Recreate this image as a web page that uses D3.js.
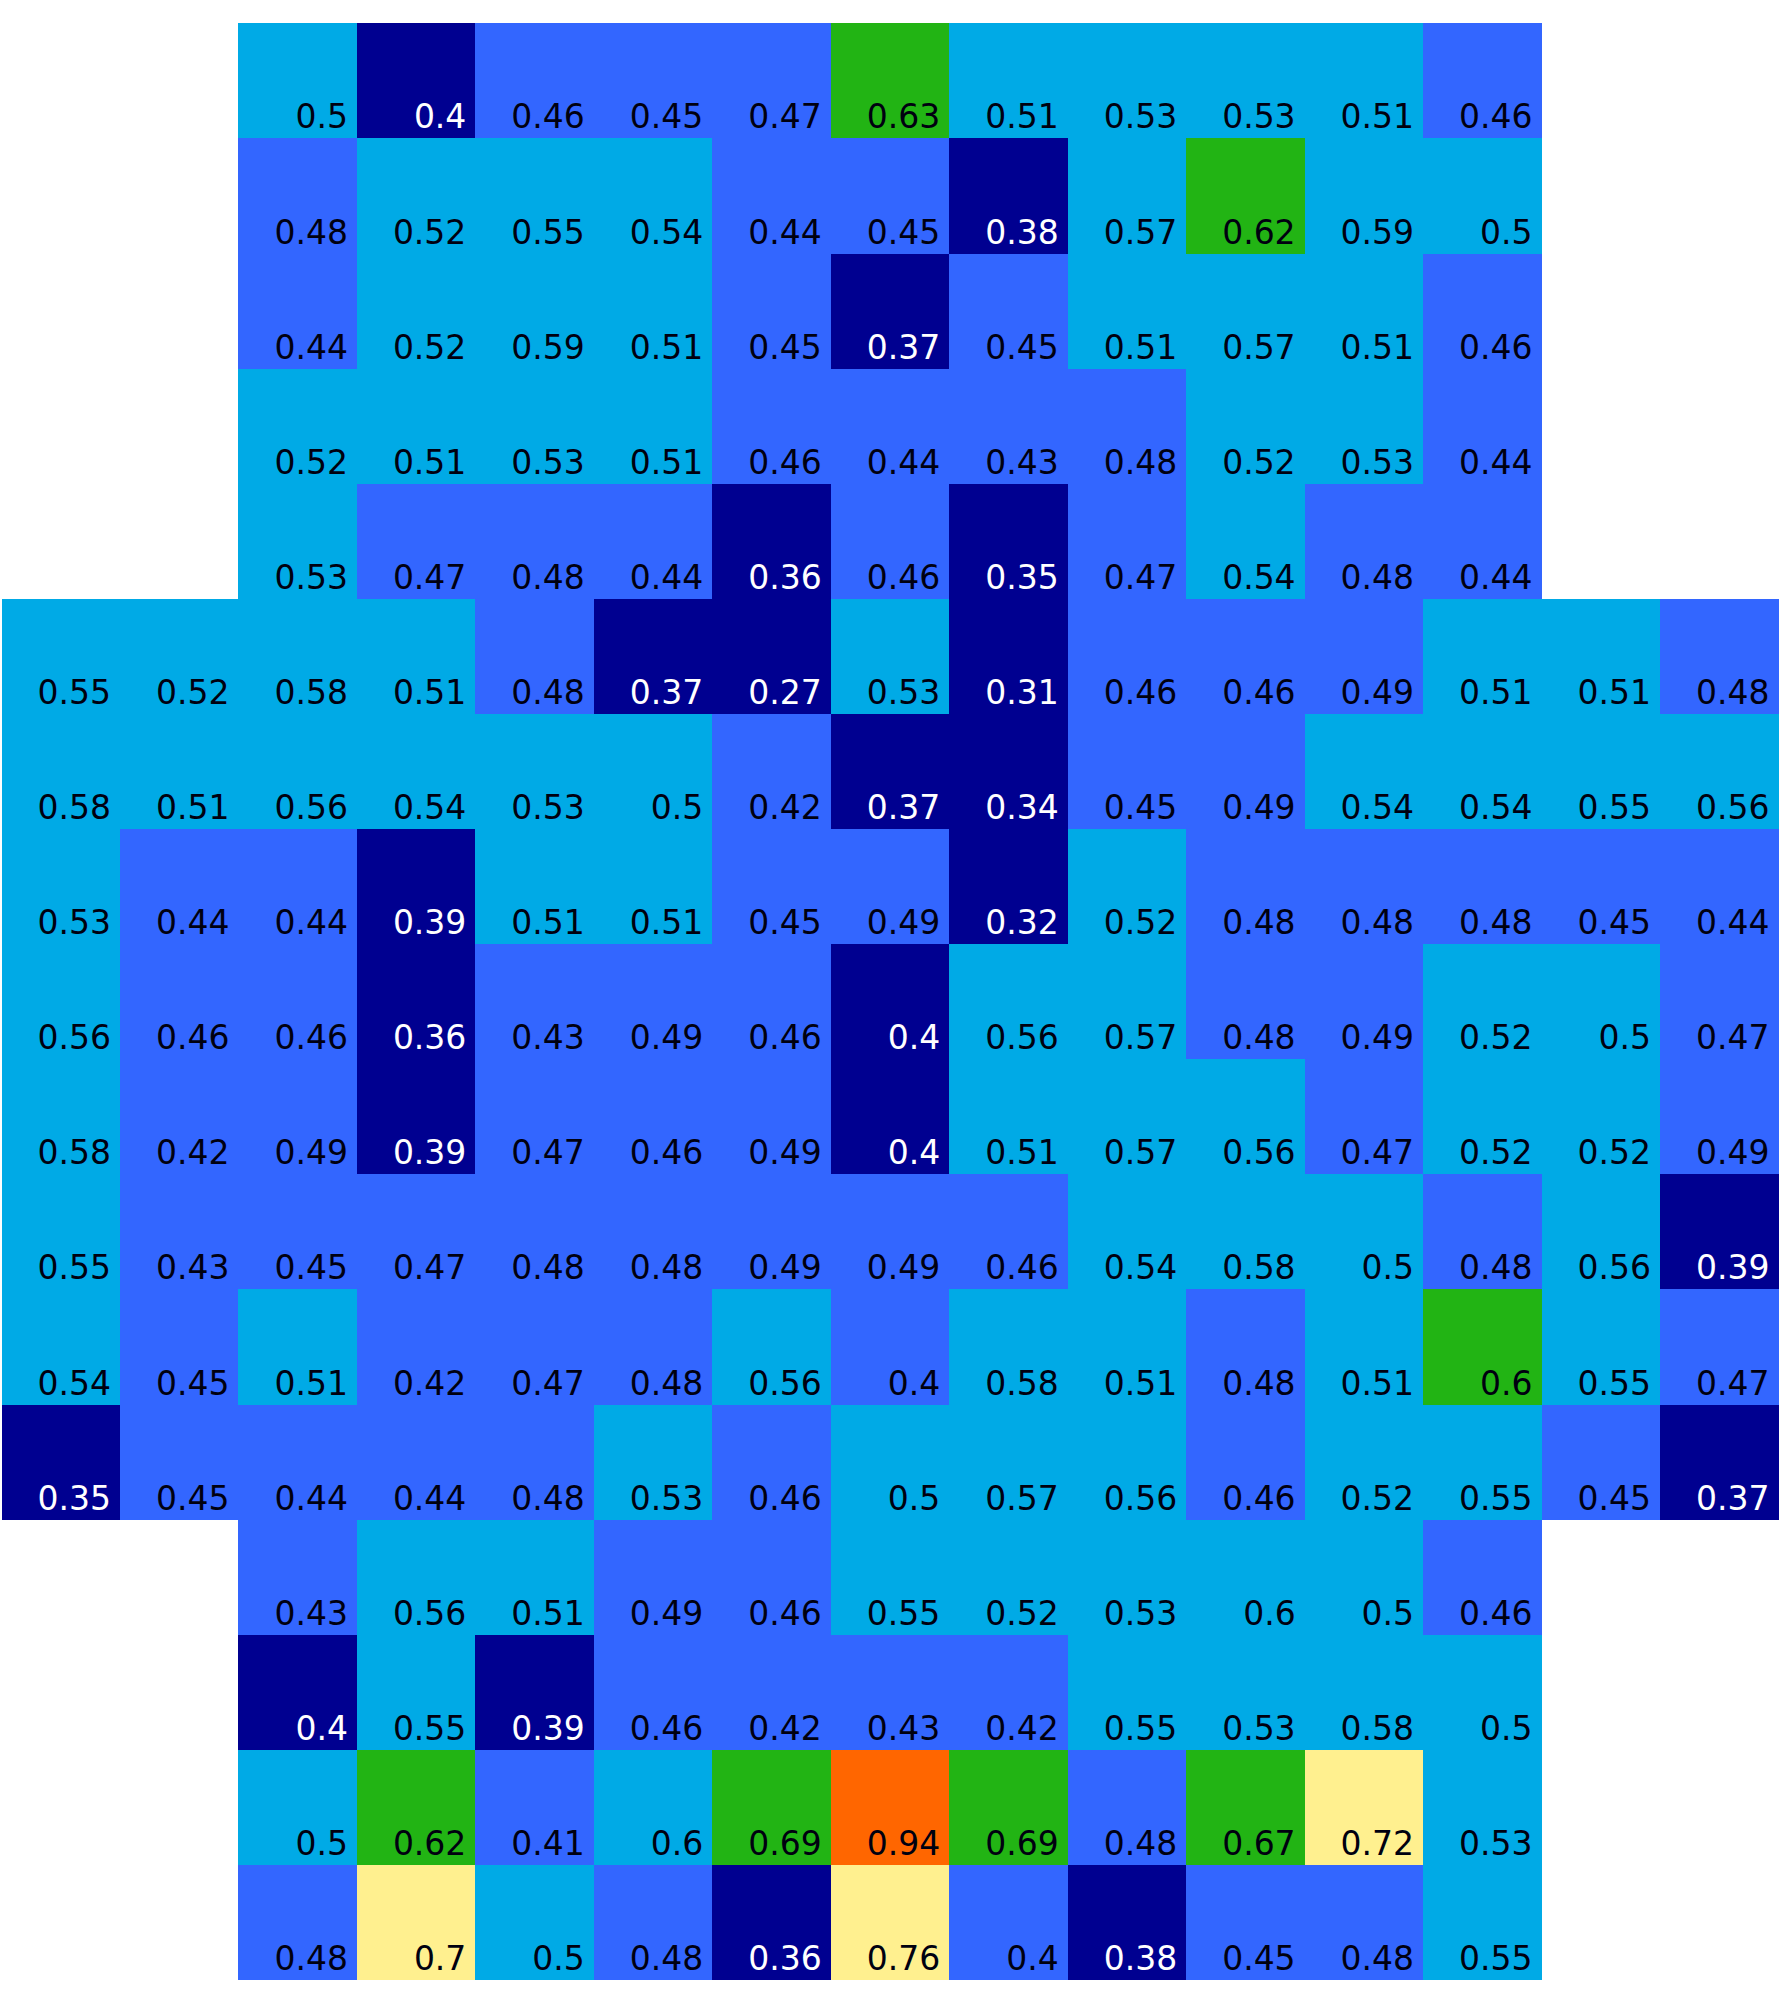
<!DOCTYPE html>
<html>
<head>
<meta charset="utf-8">
<script src="https://cdn.jsdelivr.net/npm/d3@7/dist/d3.min.js"></script>
<style>
  html, body { margin: 0; padding: 0; background: #ffffff; }
  svg { display: block; }
</style>
</head>
<body>
<svg id="chart" width="1787" height="2002"></svg>
<script>
// Column and row indices of the grid
const columns = d3.range(15);
const rows = d3.range(17);

// Cell values, row by row (null = empty cell)
const values = [
  [null, null, 0.50, 0.398, 0.46, 0.45, 0.47, 0.63, 0.51, 0.53, 0.53, 0.51, 0.46, null, null],
  [null, null, 0.48, 0.52, 0.55, 0.54, 0.44, 0.45, 0.38, 0.57, 0.62, 0.59, 0.50, null, null],
  [null, null, 0.44, 0.52, 0.59, 0.51, 0.45, 0.37, 0.45, 0.51, 0.57, 0.51, 0.46, null, null],
  [null, null, 0.52, 0.51, 0.53, 0.51, 0.46, 0.44, 0.43, 0.48, 0.52, 0.53, 0.44, null, null],
  [null, null, 0.53, 0.47, 0.48, 0.44, 0.36, 0.46, 0.35, 0.47, 0.54, 0.48, 0.44, null, null],
  [0.55, 0.52, 0.58, 0.51, 0.48, 0.37, 0.27, 0.53, 0.31, 0.46, 0.46, 0.49, 0.51, 0.51, 0.48],
  [0.58, 0.51, 0.56, 0.54, 0.53, 0.50, 0.42, 0.37, 0.34, 0.45, 0.49, 0.54, 0.54, 0.55, 0.56],
  [0.53, 0.44, 0.44, 0.39, 0.51, 0.51, 0.45, 0.49, 0.32, 0.52, 0.48, 0.48, 0.48, 0.45, 0.44],
  [0.56, 0.46, 0.46, 0.36, 0.43, 0.49, 0.46, 0.398, 0.56, 0.57, 0.48, 0.49, 0.52, 0.50, 0.47],
  [0.58, 0.42, 0.49, 0.39, 0.47, 0.46, 0.49, 0.398, 0.51, 0.57, 0.56, 0.47, 0.52, 0.52, 0.49],
  [0.55, 0.43, 0.45, 0.47, 0.48, 0.48, 0.49, 0.49, 0.46, 0.54, 0.58, 0.50, 0.48, 0.56, 0.39],
  [0.54, 0.45, 0.51, 0.42, 0.47, 0.48, 0.56, 0.402, 0.58, 0.51, 0.48, 0.51, 0.602, 0.55, 0.47],
  [0.35, 0.45, 0.44, 0.44, 0.48, 0.53, 0.46, 0.50, 0.57, 0.56, 0.46, 0.52, 0.55, 0.45, 0.37],
  [null, null, 0.43, 0.56, 0.51, 0.49, 0.46, 0.55, 0.52, 0.53, 0.598, 0.50, 0.46, null, null],
  [null, null, 0.398, 0.55, 0.39, 0.46, 0.42, 0.43, 0.42, 0.55, 0.53, 0.58, 0.50, null, null],
  [null, null, 0.50, 0.62, 0.41, 0.598, 0.69, 0.94, 0.69, 0.48, 0.67, 0.72, 0.53, null, null],
  [null, null, 0.48, 0.70, 0.50, 0.48, 0.36, 0.76, 0.402, 0.38, 0.45, 0.48, 0.55, null, null]
];

// Colour bins
const thresholds = [0.4, 0.5, 0.6, 0.7, 0.8];
const binColors = ["#000090", "#3366ff", "#00aae6", "#22b414", "#fff08f", "#ff6600"];

const svg = d3.select("#chart");

const x = d3.scaleBand().domain(columns).range([1.5, 1778.5]).padding(0);
const y = d3.scaleBand().domain(rows).range([23.3, 1980]).padding(0);
const color = d3.scaleThreshold().domain(thresholds).range(binColors);
const fmt = d3.format(".2~f");

const cells = [];
values.forEach((row, r) => row.forEach((v, c) => {
  if (v !== null) cells.push({ r, c, v });
}));

svg.append("g")
  .attr("shape-rendering", "crispEdges")
  .selectAll("rect")
  .data(cells)
  .join("rect")
  .attr("x", d => Math.round(x(d.c)))
  .attr("y", d => Math.round(y(d.r)))
  .attr("width", d => Math.round(x(d.c) + x.bandwidth()) - Math.round(x(d.c)))
  .attr("height", d => Math.round(y(d.r) + y.bandwidth()) - Math.round(y(d.r)))
  .attr("fill", d => color(d.v));

svg.append("g").selectAll("text")
  .data(cells)
  .join("text")
  .attr("x", d => x(d.c) + x.bandwidth() - 9)
  .attr("y", d => y(d.r) + y.bandwidth() - 10)
  .attr("text-anchor", "end")
  .attr("font-family", "'DejaVu Sans', Verdana, sans-serif")
  .attr("font-size", 33)
  .attr("fill", d => d.v < 0.4 ? "#ffffff" : "#000010")
  .text(d => fmt(d.v));
</script>
</body>
</html>
